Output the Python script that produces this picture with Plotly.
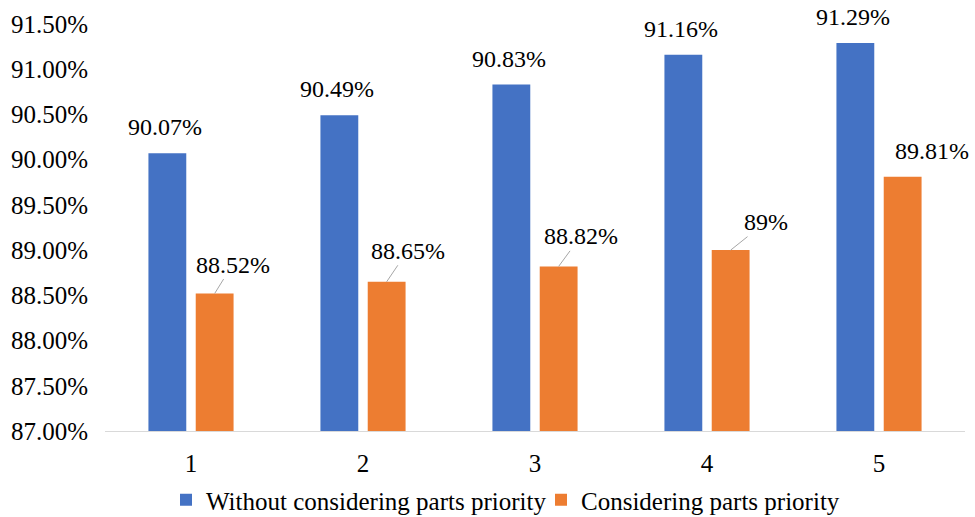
import plotly.graph_objects as go

# Scenario index on the x axis
runs = [1, 2, 3, 4, 5]

# Accuracy (%) for each scenario
without_priority = [90.07, 90.49, 90.83, 91.16, 91.29]
with_priority = [88.52, 88.65, 88.82, 89.00, 89.81]

# Label text for each bar
without_labels = ["90.07%", "90.49%", "90.83%", "91.16%", "91.29%"]
with_labels = ["88.52%", "88.65%", "88.82%", "89%", "89.81%"]

# Pixel offsets of the orange-bar labels (text centre relative to bar top) and whether a leader line is drawn
with_label_dx = [18, 21, 22, 35, 29]
with_label_dy = [-29, -31, -30, -28, -26]
with_label_leader = [True, True, True, True, False]

BLUE = "#4472C4"
ORANGE = "#ED7D31"
FONT = "Liberation Serif"
LABEL_SIZE = 24
AXIS_SIZE = 25

BARGAP = 0.45
GROUPGAP = 0.2
slot = (1 - BARGAP) / 2  # width of one series slot in x units

fig = go.Figure()
fig.add_trace(go.Bar(x=runs, y=without_priority, name="Without considering parts priority",
                     marker=dict(color=BLUE, line=dict(width=0))))
fig.add_trace(go.Bar(x=runs, y=with_priority, name="Considering parts priority",
                     marker=dict(color=ORANGE, line=dict(width=0))))

label_font = dict(family=FONT, size=LABEL_SIZE, color="#000000")
annotations = []
for x, y, t in zip(runs, without_priority, without_labels):
    annotations.append(dict(x=x - slot / 2, y=y, text=t, showarrow=False,
                            xanchor="center", yanchor="middle", yshift=26, xshift=-2,
                            font=label_font))
for x, y, t, dx, dy, lead in zip(runs, with_priority, with_labels,
                                 with_label_dx, with_label_dy, with_label_leader):
    if lead:
        annotations.append(dict(x=x + slot / 2, y=y, text=t, showarrow=True,
                                arrowhead=0, arrowwidth=1, arrowcolor="#a6a6a6",
                                ax=dx, ay=dy, standoff=0, startstandoff=0,
                                font=label_font))
    else:
        annotations.append(dict(x=x + slot / 2, y=y, text=t, showarrow=False,
                                xanchor="center", yanchor="middle", xshift=dx, yshift=-dy,
                                font=label_font))

fig.update_layout(
    width=975, height=517,
    margin=dict(l=105, r=10, t=24, b=86, autoexpand=False),
    paper_bgcolor="white", plot_bgcolor="white",
    barmode="group", bargap=BARGAP, bargroupgap=GROUPGAP,
    font=dict(family=FONT, size=AXIS_SIZE, color="#000000"),
    xaxis=dict(range=[0.5, 5.5], tickmode="array", tickvals=runs,
               ticktext=[str(r) for r in runs], showgrid=False, zeroline=False,
               showline=True, linecolor="#d9d9d9", linewidth=1,
               ticks="", ticklabelstandoff=10,
               tickfont=dict(family=FONT, size=AXIS_SIZE, color="#000000")),
    yaxis=dict(range=[87, 91.5], dtick=0.5, tick0=87, tickformat=".2f", ticksuffix="%",
               showgrid=False, zeroline=False, showline=False, ticks="",
               ticklabelstandoff=16,
               tickfont=dict(family=FONT, size=AXIS_SIZE, color="#000000")),
    legend=dict(orientation="h", x=0.507, xanchor="center",
                yref="container", y=1 - 500 / 517, yanchor="middle",
                entrywidth=330, entrywidthmode="pixels",
                font=dict(family=FONT, size=AXIS_SIZE, color="#000000"),
                itemsizing="constant", traceorder="normal"),
    annotations=annotations,
    showlegend=True,
)

fig.write_html("out.html")
